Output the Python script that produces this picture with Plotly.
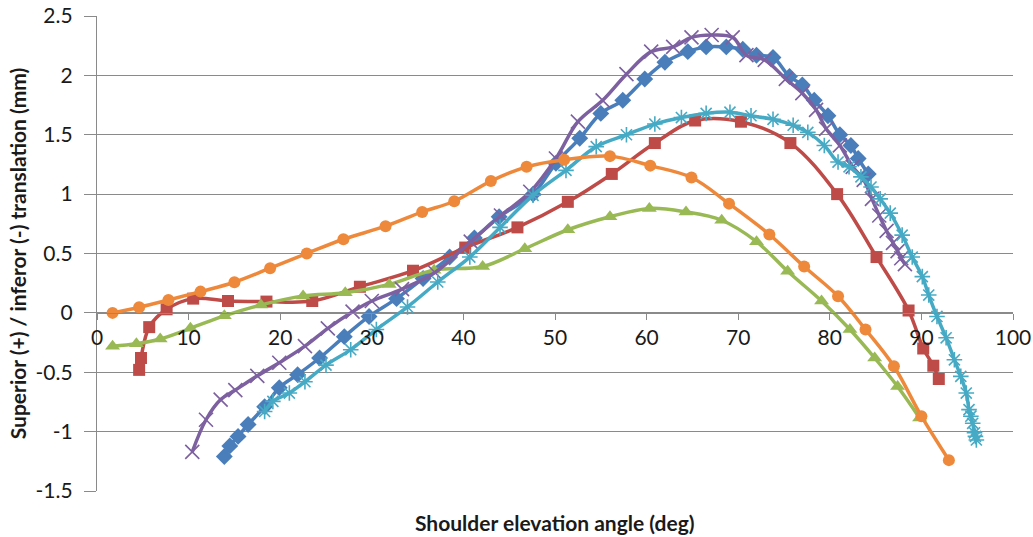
import plotly.graph_objects as go

# ---------------- data ----------------
blue_x = [13.9, 14.5, 15.4, 16.5, 18.3, 19.9, 21.9, 24.3, 27.0, 29.7,
          32.7, 35.6, 38.5, 41.2, 43.9, 47.6, 50.1, 52.7, 55.0, 57.4,
          59.8, 62.0, 64.5, 66.5, 68.7, 70.5, 72.0, 73.8, 75.6, 77.0,
          78.3, 79.8, 81.1, 82.3, 83.1, 84.2]
blue_y = [-1.21, -1.12, -1.04, -0.94, -0.79, -0.63, -0.52, -0.38, -0.20, -0.03,
          0.12, 0.29, 0.47, 0.63, 0.81, 1.00, 1.26, 1.47, 1.68, 1.79,
          1.97, 2.11, 2.20, 2.24, 2.24, 2.22, 2.17, 2.15, 1.99, 1.92,
          1.79, 1.66, 1.50, 1.41, 1.30, 1.17]

red_x = [4.6, 4.8, 5.7, 7.6, 10.5, 14.3, 18.5, 23.5, 28.7, 34.5, 40.2, 45.9,
         51.4, 56.2, 60.9, 65.3, 70.3, 75.7, 80.8, 85.1, 88.6, 90.2, 91.3, 91.9]
red_y = [-0.48, -0.38, -0.12, 0.03, 0.12, 0.10, 0.095, 0.10, 0.22, 0.355, 0.55, 0.72,
         0.935, 1.17, 1.43, 1.62, 1.61, 1.43, 1.00, 0.47, 0.02, -0.30, -0.445, -0.557]

green_x = [1.7, 4.3, 6.9, 10.2, 13.9, 17.9, 22.5, 27.1, 31.9, 36.8, 42.1, 46.7,
           51.4, 56.0, 60.3, 64.3, 68.2, 72.0, 75.4, 79.1, 82.2, 84.9, 87.4, 89.8]
green_y = [-0.28, -0.26, -0.22, -0.13, -0.025, 0.067, 0.143, 0.17, 0.24, 0.36, 0.39, 0.54,
           0.70, 0.81, 0.88, 0.85, 0.78, 0.60, 0.35, 0.10, -0.14, -0.38, -0.62, -0.885]

purple_x = [10.4, 11.9, 13.5, 15.1, 17.5, 19.9, 22.7, 25.2, 27.9, 30.0,
            33.3, 36.9, 40.8, 44.1, 47.3, 50.1, 52.5, 55.2, 57.8, 60.5,
            62.9, 64.9, 67.1, 69.4, 70.9, 72.9, 75.2, 77.0, 78.5, 79.6,
            81.1, 82.5, 83.7, 84.6, 85.4, 86.2, 86.9, 87.4, 87.8, 88.2]
purple_y = [-1.17, -0.90, -0.73, -0.65, -0.53, -0.42, -0.28, -0.13, 0.01, 0.10,
            0.20, 0.34, 0.60, 0.82, 1.02, 1.30, 1.61, 1.79, 2.01, 2.20,
            2.24, 2.32, 2.34, 2.32, 2.17, 2.13, 1.97, 1.85, 1.71, 1.55,
            1.41, 1.23, 1.12, 0.96, 0.82, 0.69, 0.59, 0.52, 0.46, 0.41]

cyan_x = [18.3, 19.2, 21.0, 22.7, 25.0, 27.7, 30.5, 33.9, 37.2, 40.7,
          44.0, 47.6, 51.2, 54.5, 57.8, 60.9, 63.8, 66.5, 69.1, 71.4,
          73.8, 76.0, 77.6, 79.4, 80.9, 82.1, 83.4, 84.5, 85.5, 86.6,
          87.9, 89.0, 90.1, 90.8, 91.7, 92.7, 93.6, 94.3, 94.9, 95.2,
          95.4, 95.6, 95.8, 95.9, 96.0]
cyan_y = [-0.83, -0.745, -0.675, -0.58, -0.44, -0.31, -0.14, 0.05, 0.26, 0.47,
          0.72, 0.99, 1.20, 1.40, 1.50, 1.59, 1.645, 1.68, 1.69, 1.66,
          1.63, 1.58, 1.52, 1.41, 1.27, 1.23, 1.145, 1.06, 0.96, 0.84,
          0.655, 0.47, 0.305, 0.15, -0.03, -0.21, -0.395, -0.535, -0.675, -0.815,
          -0.87, -0.93, -1.01, -1.04, -1.07]

orange_x = [1.7, 4.6, 7.8, 11.3, 15.0, 18.9, 22.9, 26.9, 31.5, 35.5, 39.0, 43.0,
            46.9, 51.0, 56.0, 60.4, 64.9, 69.0, 73.4, 77.2, 80.9, 83.9, 87.0, 90.0, 93.0]
orange_y = [0.0, 0.048, 0.109, 0.179, 0.258, 0.376, 0.50, 0.62, 0.73, 0.85, 0.94, 1.11,
            1.23, 1.29, 1.32, 1.24, 1.14, 0.92, 0.66, 0.39, 0.14, -0.14, -0.45, -0.87, -1.24]

y_tickvals = [-1.5, -1, -0.5, 0, 0.5, 1, 1.5, 2, 2.5]
y_ticktext = ["-1.5", "-1", "-0.5", "0", "0.5", "1", "1.5", "2", "2.5"]
x_tickvals = [0, 10, 20, 30, 40, 50, 60, 70, 80, 90, 100]
x_ticktext = ["0", "10", "20", "30", "40", "50", "60", "70", "80", "90", "100"]

x_title = "Shoulder elevation angle (deg)"
y_title = "Superior (+) / inferor (-) translation (mm)"

FONT = "Lato"
GRID = "#8a8a8a"
TXT = "#1a1a1a"

series = [
    (blue_x, blue_y, "#4A7EBB", dict(symbol="diamond", size=13)),
    (red_x, red_y, "#BE4B48", dict(symbol="square", size=12)),
    (green_x, green_y, "#98B954", dict(symbol="triangle-up", size=13)),
    (purple_x, purple_y, "#7D60A0", dict(symbol="x-thin", size=14, line=dict(width=1.6, color="#7D60A0"))),
    (cyan_x, cyan_y, "#46AAC5", dict(symbol="asterisk", size=13, line=dict(width=1.6, color="#46AAC5"))),
    (orange_x, orange_y, "#EE893B", dict(symbol="circle", size=12)),
]

fig = go.Figure()
for xs, ys, col, mk in series:
    m = dict(color=col)
    m.update(mk)
    fig.add_trace(go.Scatter(x=xs, y=ys, mode="lines+markers",
                             line=dict(color=col, width=3.5, shape="spline", smoothing=1.0),
                             marker=m, showlegend=False))

fig.update_layout(
    width=1033, height=537,
    margin=dict(l=97, r=20, t=16, b=46),
    plot_bgcolor="white", paper_bgcolor="white",
    font=dict(family=FONT, size=21, color=TXT),
    showlegend=False,
)
fig.update_xaxes(
    range=[0, 100], tickvals=x_tickvals, ticktext=x_ticktext,
    showgrid=False, zeroline=False, automargin=False,
    showline=True, linecolor=GRID, linewidth=1.3,
    ticks="outside", ticklen=6, tickcolor=GRID,
    anchor="free", position=0.375,
)
fig.update_yaxes(
    range=[-1.5, 2.5], tickvals=y_tickvals, ticktext=y_ticktext,
    showgrid=True, gridcolor=GRID, gridwidth=1.3, zeroline=False, automargin=False,
    showline=True, linecolor=GRID, linewidth=1.3,
    ticks="outside", ticklen=12, tickcolor=GRID, ticklabelstandoff=7,
    title=dict(text="<b>" + y_title + "</b>", font=dict(size=21), standoff=3),
)
fig.add_annotation(text="<b>" + x_title + "</b>", xref="paper", yref="paper",
                   x=0.5, y=-0.067, xanchor="center", yanchor="middle",
                   showarrow=False, font=dict(size=21))

fig.write_html("out.html", config={"displayModeBar": False},
               post_script="document.body.style.margin='0';")
